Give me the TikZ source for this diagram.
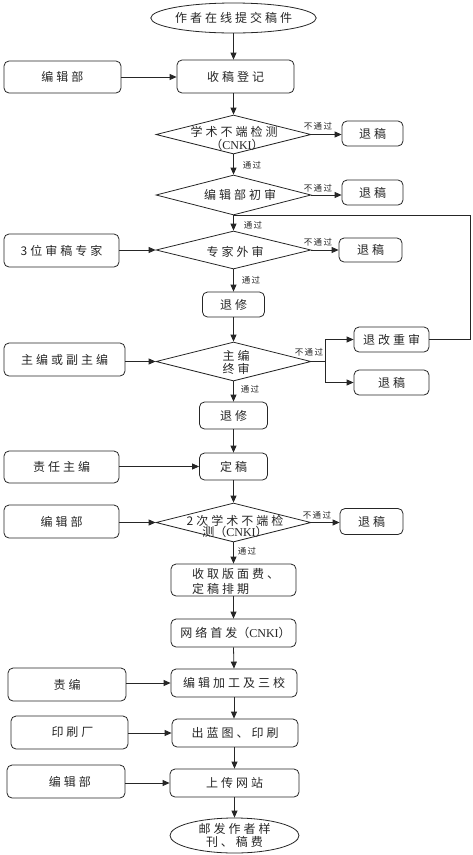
\documentclass[tikz,border=0pt]{standalone}
\usepackage{fontspec}
\usetikzlibrary{shapes.geometric,arrows.meta}
\newfontfamily\cjk{Noto Sans CJK SC}[LetterSpace=25]
\newfontfamily\cjkplain{Noto Sans CJK SC}
\newfontfamily\cjklab{Noto Sans CJK SC}[LetterSpace=15]
\newfontfamily\latinf{Liberation Serif}
\newcommand\mainf{\cjk\fontsize{12}{13}\selectfont}
\newcommand\labf{\cjklab\fontsize{8.5}{9}\selectfont}
\newcommand\cnki{{\cjkplain （}{\latinf CNKI}{\cjkplain ）}}
\tikzset{
  base/.style={draw=black!85, line width=0.8pt, inner sep=0pt, font=\mainf, text=black!85},
  box/.style={base, rectangle, rounded corners=5pt},
  diam/.style={base, diamond},
  oval/.style={base, ellipse},
  sz/.style 2 args={minimum width=#1pt, minimum height=#2pt},
  txt/.style={inner sep=0pt, font=\mainf, text=black!85, align=center},
  lab/.style={inner sep=0pt, font=\labf, text=black!85},
  arr/.style={draw=black!85, line width=0.8pt, -{Triangle[length=7pt,width=6pt]}},
  ln/.style={draw=black!85, line width=0.8pt},
}
\begin{document}
\begin{tikzpicture}[x=1pt,y=-1pt]
\useasboundingbox (0,0) rectangle (472,855);
% main column
\node[oval, sz={129}{30}] (start) at (233.5,18) {作者在线提交稿件};
\node[box, sz={117}{33}] (reg) at (235.5,76.5) {收稿登记};
\node[diam, sz={155}{39}] (d1) at (233.5,134.5) {};
\node[txt] (d1t) at (234,132) {学术不端检测};
\node[txt] (d1u) at (237,144.5) {\cnki};
\node[diam, sz={155}{40}] (d2) at (233.5,195) {};
\node[txt] (d2t) at (240,195) {编辑部初审};
\node[diam, sz={155}{38}] (d3) at (233.5,250) {};
\node[txt] (d3t) at (235,251.5) {专家外审};
\node[box, sz={62}{25}] (tx1) at (233.5,304.5) {退修};
\node[diam, sz={155}{39}] (d4) at (233.5,361.5) {};
\node[txt] (d4t) at (236,355.5) {主编};
\node[txt] (d4u) at (236,369) {终审};
\node[box, sz={68}{27}] (tx2) at (233.5,415.5) {退修};
\node[box, sz={68}{27}] (dg) at (233.5,466.5) {定稿};
\node[diam, sz={155}{39}] (d5) at (233.5,522.5) {};
\node[txt] (d5t) at (235,520.5) {2次学术不端检};
\node[txt] (d5u) at (235,532) {测\cnki};
\node[box, sz={125}{32}] (fee) at (233.5,580) {};
\node[txt, anchor=west, align=left] (feet) at (192,581.5) {收取版面费、\\[2pt]定稿排期};
\node[box, sz={125}{28}] (wl) at (233.5,633) {\hspace*{4pt}网络首发\cnki};
\node[box, sz={126}{28}] (bj) at (234,683) {编辑加工及三校};
\node[box, sz={126}{28}] (lt) at (235,733) {出蓝图、印刷};
\node[box, sz={129}{28}] (up) at (234.5,783) {上传网站};
\node[oval, sz={129}{35}, align=center] (end) at (234.5,835.5) {邮发作者样\\刊、稿费};
% left column
\node[box, sz={117}{32}] (ed1) at (62.5,77) {编辑部};
\node[box, sz={115}{33}] (ex) at (61.5,250.5) {3位审稿专家};
\node[box, sz={121}{33}] (chief) at (64.5,359.5) {主编或副主编};
\node[box, sz={115}{32}] (zr) at (61.5,467) {责任主编};
\node[box, sz={115}{33}] (ed2) at (61.5,521.5) {编辑部};
\node[box, sz={118}{33}] (zb) at (67,684.5) {责编};
\node[box, sz={117}{33}] (ys) at (69.5,732.5) {\hspace*{6pt}印刷厂};
\node[box, sz={118}{33}] (ed3) at (66,781.5) {\hspace*{8pt}编辑部};
% right column
\node[box, sz={61}{25}] (r1) at (372.5,133.5) {退稿};
\node[box, sz={61}{25}] (r2) at (372.5,192.5) {退稿};
\node[box, sz={63}{24}] (r3) at (370.5,250) {退稿};
\node[box, sz={75}{25}] (tgcs) at (391.5,339.5) {退改重审};
\node[box, sz={75}{25}] (r4) at (391.5,382.5) {退稿};
\node[box, sz={63}{26}] (r5) at (371.5,521.5) {退稿};
% vertical flow
\draw[arr] (start) -- (reg.north -| start.south);
\draw[arr] (reg.south -| d1.north) -- (d1.north);
\draw[arr] (d1.south) -- (d2.north);
\draw[arr] (d2.south) -- (d3.north);
\draw[arr] (d3.south) -- (tx1.north);
\draw[arr] (tx1.south) -- (d4.north);
\draw[arr] (d4.south) -- (tx2.north);
\draw[arr] (tx2.south) -- (dg.north);
\draw[arr] (dg.south) -- (d5.north);
\draw[arr] (d5.south) -- (fee.north);
\draw[arr] (fee.south) -- (wl.north);
\draw[arr] (wl.south) -- (bj.north);
\draw[arr] (bj.south) -- (lt.north -| bj.south);
\draw[arr] (lt.south -| up.north) -- (up.north);
\draw[arr] (up.south) -- (end.north);
% pass labels
\node[lab] (p1) at (252,165) {通过};
\node[lab] (p2) at (253,225) {通过};
\node[lab] (p3) at (251,280) {通过};
\node[lab] (p4) at (250,389) {通过};
\node[lab] (p5) at (247,551) {通过};
% left inputs
\draw[arr] (ed1.east) -- (ed1.east -| reg.west);
\draw[arr] (ex.east |- d3.west) -- (d3.west);
\draw[arr] (chief.east |- d4.west) -- (d4.west);
\draw[arr] (zr.east |- dg.west) -- (dg.west);
\draw[arr] (ed2.east |- d5.west) -- (d5.west);
\draw[arr] (zb.east |- bj.west) -- (bj.west);
\draw[arr] (ys.east |- lt.west) -- (lt.west);
\draw[arr] (ed3.east |- up.west) -- (up.west);
% reject branches
\draw[arr] (d1.east) -- (d1.east -| r1.west);
\draw[arr] (d2.east) -- (d2.east -| r2.west);
\draw[arr] (d3.east) -- (d3.east -| r3.west);
\draw[arr] (d5.east) -- (d5.east -| r5.west);
\coordinate (br) at (325,361.5);
\draw[ln] (d4.east) -- (br);
\draw[arr] (br) |- (tgcs.west);
\draw[arr] (br) |- (r4.west);
\draw[ln] (tgcs.east) -- (470,339.5) |- (d2.south);
\node[lab] (n1) at (318,126) {不通过};
\node[lab] (n2) at (318,188) {不通过};
\node[lab] (n3) at (318,242) {不通过};
\node[lab] (n4) at (309,352) {不通过};
\node[lab] (n5) at (317,515) {不通过};
\end{tikzpicture}
\end{document}
